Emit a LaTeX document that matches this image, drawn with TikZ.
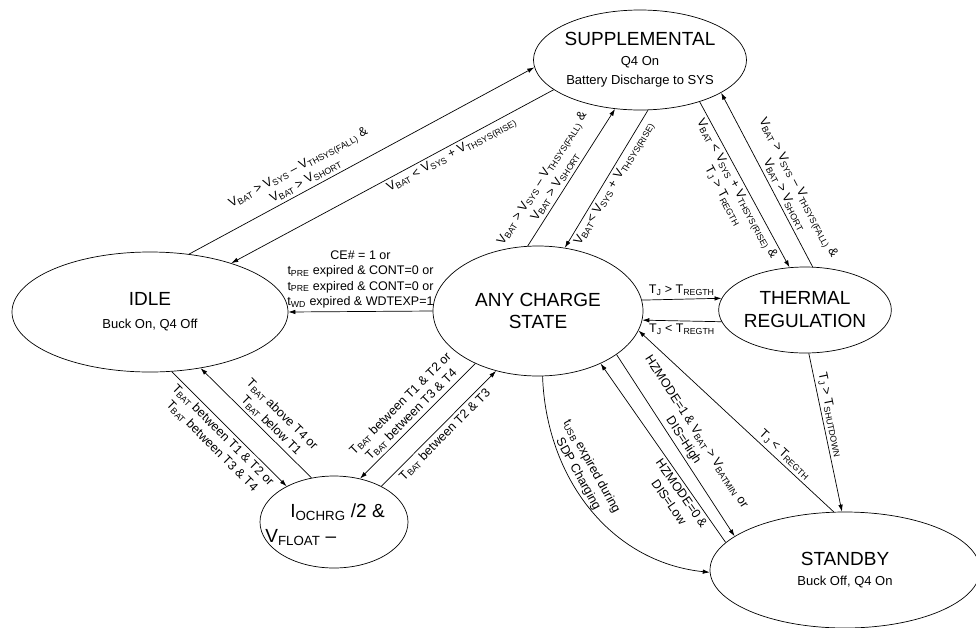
\documentclass[tikz,border=0pt]{standalone}
\usepackage{fontspec}
\setmainfont{Liberation Sans}
\usetikzlibrary{shapes.geometric,arrows.meta}
\def\lo#1{\textsubscript{#1}}
\def\ttl#1{{\fontsize{19}{22}\selectfont #1}}

\begin{document}
\begin{tikzpicture}[x=1pt, y=-1pt, line width=0.7pt,
		>={Latex[length=7pt,width=4.5pt]},
		state/.style={draw, ellipse, align=center, inner sep=0pt, font=\fontsize{13}{20}\selectfont},
		lbl/.style={font=\fontsize{12.5}{15.5}\selectfont, align=center, inner sep=3pt}]
			%%%%% STATES %%%%%
			\useasboundingbox (0,0) rectangle (976,627);
			
			\node[state, minimum width=186pt, minimum height=100pt] (supp) at (640,60) {\ttl{SUPPLEMENTAL}\\Q4 On\\[-1pt]Battery Discharge to SYS};
			\node[state, minimum width=276pt, minimum height=120pt] (idle) at (150,312) {\ttl{IDLE}\\[3pt]Buck On, Q4 Off};
			\node[state, minimum width=210pt, minimum height=130pt, font=\fontsize{19}{22}\selectfont] (any) at (538,311) {ANY CHARGE\\STATE};
			\node[state, minimum width=150pt, minimum height=86pt, font=\fontsize{19}{23}\selectfont] (thrm) at (805,310) {THERMAL\\REGULATION};
			\node[state, minimum width=270pt, minimum height=116pt] (stby) at (845,570) {\ttl{STANDBY}\\Buck Off, Q4 On};
			
			\node[state, minimum width=148pt, minimum height=92pt] (ioc) at (334,522) {};
			\node[anchor=base west, inner sep=0pt, font=\fontsize{19}{22}\selectfont] (iocA) at (290,517) {I\lo{OCHRG} /2 \&};
			\node[anchor=base west, inner sep=0pt, font=\fontsize{19}{22}\selectfont] (iocB) at (265,542) {V\lo{FLOAT} –};
			
			%%%%% TRANSITIONS %%%%%
			\draw[->] (idle.56) -- node[lbl, sloped, above, pos=0.35] {V\lo{BAT} > V\lo{SYS} – V\lo{THSYS(FALL)} \&\\V\lo{BAT} > V\lo{SHORT}} (supp.184);
			\draw[->] (supp.199) -- node[lbl, sloped, below, pos=0.33] {V\lo{BAT} < V\lo{SYS} + V\lo{THSYS(RISE)}} (idle.31);
			
			\draw[->] (any.99) -- node[lbl, sloped, above, pos=0.4] {V\lo{BAT} > V\lo{SYS} – V\lo{THSYS(FALL)} \&\\V\lo{BAT} > V\lo{SHORT}} (supp.243);
			\draw[->] (supp.279) -- node[lbl, sloped, below, pos=0.5] {V\lo{BAT}< V\lo{SYS} + V\lo{THSYS(RISE)}} (any.67);
			
			\draw[->] (supp.325) -- node[lbl, sloped, below, pos=0.5] {V\lo{BAT} < V\lo{SYS} + V\lo{THSYS(RISE)} \&\\T\lo{J} > T\lo{REGTH}} (thrm.110);
			\draw[->] (thrm.80) -- node[lbl, sloped, above, pos=0.39] {V\lo{BAT} > V\lo{SYS} – V\lo{THSYS(FALL)} \&\\V\lo{BAT} > V\lo{SHORT}} (supp.338);
			
			\draw[->] (any.6) -- node[lbl, above] {T\lo{J} > T\lo{REGTH}} (thrm.172);
			\draw[->] (thrm.188) -- node[lbl, below] {T\lo{J} < T\lo{REGTH}} (any.-5);
			
			\draw[->] (any.180) -- node[lbl, above, pos=0.5] {CE\# = 1 or\\t\lo{PRE} expired \& CONT=0 or\\t\lo{PRE} expired \& CONT=0 or\\t\lo{WD} expired \& WDTEXP=1} (idle.0);
			
			\draw[->] (idle.-70) -- node[lbl, sloped, below, pos=0.5] {T\lo{BAT} between T1 \& T2 or\\T\lo{BAT} between T3 \& T4} (ioc.143);
			\draw[->] (ioc.117) -- node[lbl, sloped, above, pos=0.42] {T\lo{BAT} above T4 or\\T\lo{BAT} below T1} (idle.-48);
			\draw[->] (any.220) -- node[lbl, sloped, above, pos=0.5] {T\lo{BAT} between T1 \& T2 or\\T\lo{BAT} between T3 \& T4} (ioc.59);
			\draw[->] (ioc.37) -- node[lbl, sloped, below, pos=0.5] {T\lo{BAT} between T2 \& T3} (any.235);
			
			\draw[->] (any.-86) to[out=-88, in=174] node[lbl, sloped, above, pos=0.37] {t\lo{USB} expired during\\SDP Charging} (stby.181);
			\draw[->] (stby.167) -- node[lbl, sloped, below, pos=0.3] {HZMODE=0 \&\\DIS=Low} (any.-40);
			\draw[->] (any.-29) -- node[lbl, sloped, above, pos=0.5] {HZMODE=1 \& V\lo{BAT} > V\lo{BATMIN} or\\DIS=High} (stby.163);
			\draw[->] (stby.101) -- node[lbl, sloped, above, pos=0.28] {T\lo{J} < T\lo{REGTH}} (any.-11);
			\draw[->] (thrm.-85) -- node[lbl, sloped, above, pos=0.4] {T\lo{J} > T\lo{SHUTDOWN}} (stby.93);
			
			%%%%% END %%%%%
		\end{tikzpicture}
\end{document}
